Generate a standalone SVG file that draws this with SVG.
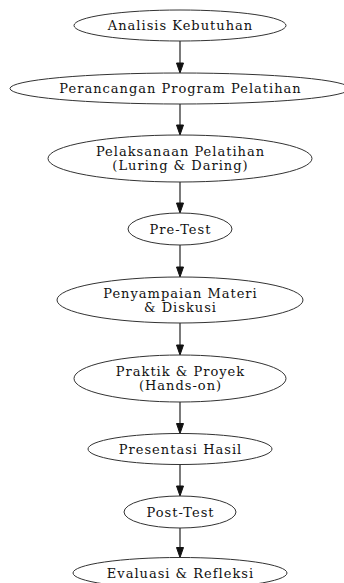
<svg xmlns="http://www.w3.org/2000/svg" width="344" height="583" viewBox="0 0 344 583">
<defs>
<style>
.n ellipse{fill:#fff;stroke:#333;stroke-width:1}
.n text{font-family:"DejaVu Serif",serif;font-size:13px;letter-spacing:1px;fill:#111;text-anchor:middle}
.e line{stroke:#222;stroke-width:1.2}
.e polygon{fill:#111;stroke:#111}
</style>
</defs>
<rect width="344" height="583" fill="#fff"/>
<g id="edges" class="e">
<line x1="180" y1="41" x2="180" y2="63"/><polygon points="176.5,63 183.5,63 180,73"/>
<line x1="180" y1="104" x2="180" y2="125"/><polygon points="176.5,125 183.5,125 180,135"/>
<line x1="180" y1="182" x2="180" y2="203"/><polygon points="176.5,203 183.5,203 180,213"/>
<line x1="180" y1="245" x2="180" y2="267"/><polygon points="176.5,267 183.5,267 180,277"/>
<line x1="180" y1="323" x2="180" y2="345"/><polygon points="176.5,345 183.5,345 180,355"/>
<line x1="180" y1="402" x2="180" y2="423.5"/><polygon points="176.5,423.5 183.5,423.5 180,433.5"/>
<line x1="180" y1="464.5" x2="180" y2="486"/><polygon points="176.5,486 183.5,486 180,496"/>
<line x1="180" y1="528" x2="180" y2="547.5"/><polygon points="176.5,547.5 183.5,547.5 180,557.5"/>
</g>
<g id="n1" class="n"><ellipse cx="180" cy="25.5" rx="106" ry="15.5"/><text x="180.5" y="30">Analisis Kebutuhan</text></g>
<g id="n2" class="n"><ellipse cx="180" cy="88.5" rx="170" ry="15.5"/><text x="180.5" y="93">Perancangan Program Pelatihan</text></g>
<g id="n3" class="n"><ellipse cx="180" cy="158.5" rx="132" ry="23.5"/><text x="180.5" y="156">Pelaksanaan Pelatihan</text><text x="180.5" y="170">(Luring &amp; Daring)</text></g>
<g id="n4" class="n"><ellipse cx="180" cy="229" rx="52" ry="16"/><text x="180.5" y="233.5">Pre-Test</text></g>
<g id="n5" class="n"><ellipse cx="180" cy="300" rx="123" ry="23"/><text x="180.5" y="297.5">Penyampaian Materi</text><text x="180.5" y="311.5">&amp; Diskusi</text></g>
<g id="n6" class="n"><ellipse cx="180" cy="378.5" rx="106" ry="23.5"/><text x="180.5" y="376">Praktik &amp; Proyek</text><text x="180.5" y="390">(Hands-on)</text></g>
<g id="n7" class="n"><ellipse cx="180" cy="449" rx="92" ry="15.5"/><text x="180.5" y="453.5">Presentasi Hasil</text></g>
<g id="n8" class="n"><ellipse cx="180" cy="512" rx="56" ry="16"/><text x="180.5" y="516.5">Post-Test</text></g>
<g id="n9" class="n"><ellipse cx="180" cy="573" rx="107" ry="15.5"/><text x="180.5" y="577.5">Evaluasi &amp; Refleksi</text></g>
</svg>
